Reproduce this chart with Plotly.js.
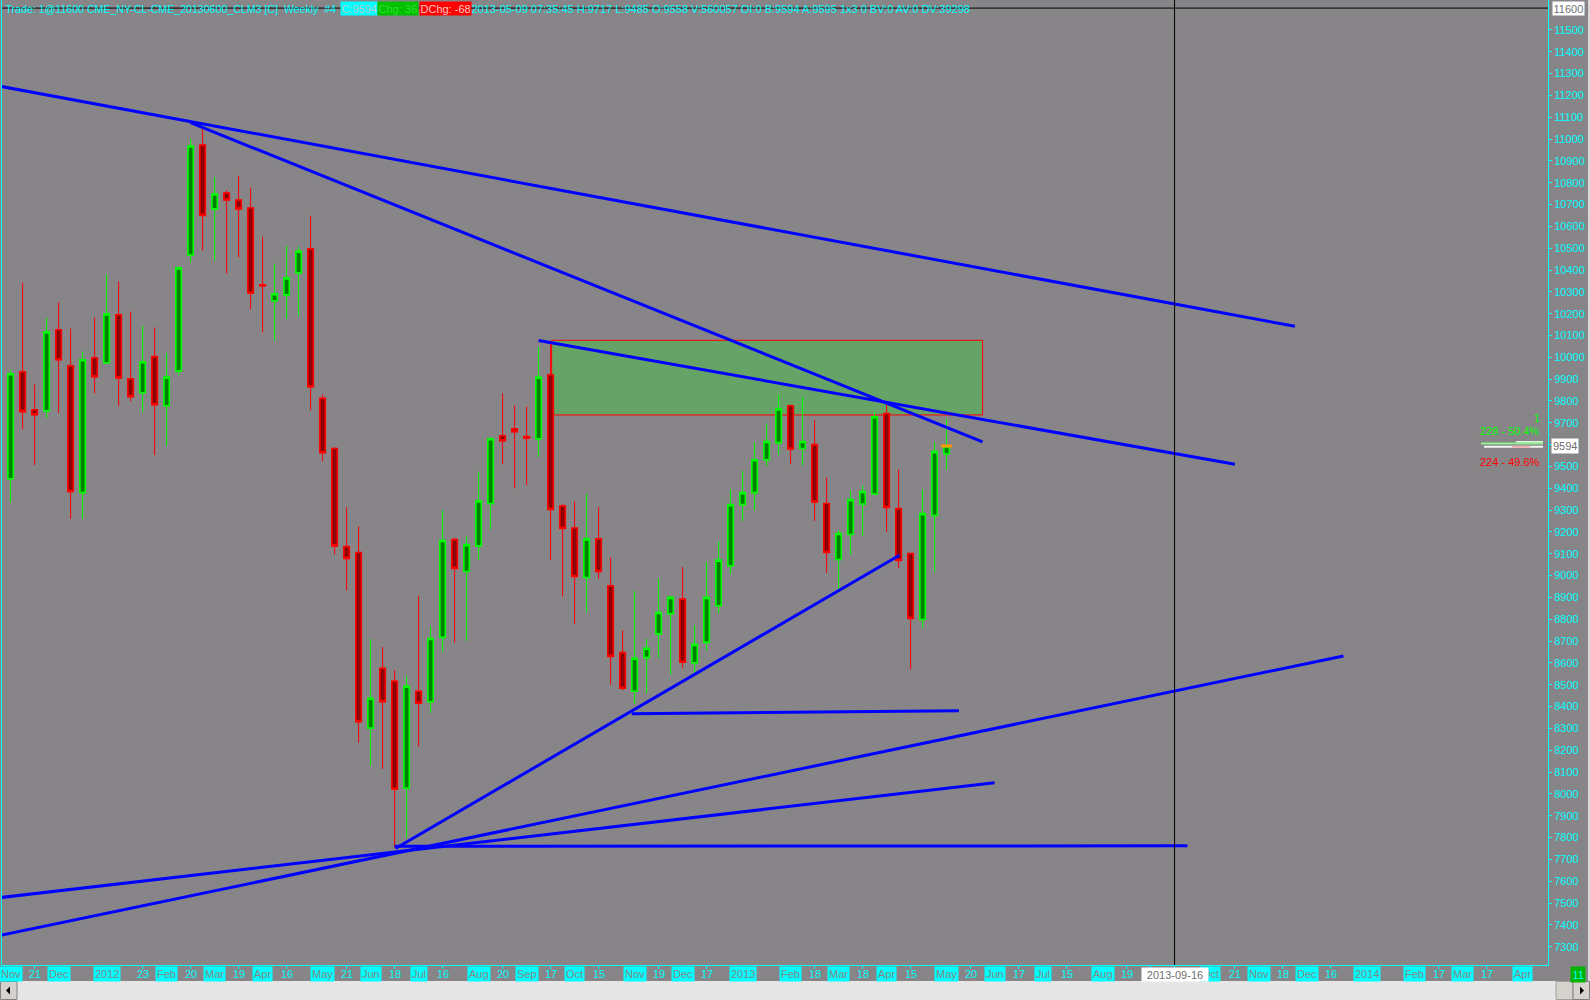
<!DOCTYPE html>
<html><head><meta charset="utf-8">
<script src="https://cdn.plot.ly/plotly-3.0.1.min.js"></script>
<style>html,body{margin:0;padding:0;background:#878588;overflow:hidden}#chart{width:1590px;height:1000px}</style>
</head><body><div id="chart"></div><script>
// ---- weekly OHLC, CLM3 (values in cents of $) ----
const dates = ['2011-11-07','2011-11-14','2011-11-21','2011-11-28','2011-12-05','2011-12-12','2011-12-19','2011-12-26',
'2012-01-02','2012-01-09','2012-01-16','2012-01-23','2012-01-30','2012-02-06','2012-02-13','2012-02-20','2012-02-27',
'2012-03-05','2012-03-12','2012-03-19','2012-03-26','2012-04-02','2012-04-09','2012-04-16','2012-04-23','2012-04-30',
'2012-05-07','2012-05-14','2012-05-21','2012-05-28','2012-06-04','2012-06-11','2012-06-18','2012-06-25','2012-07-02',
'2012-07-09','2012-07-16','2012-07-23','2012-07-30','2012-08-06','2012-08-13','2012-08-20','2012-08-27','2012-09-03',
'2012-09-10','2012-09-17','2012-09-24','2012-10-01','2012-10-08','2012-10-15','2012-10-22','2012-10-29','2012-11-05',
'2012-11-12','2012-11-19','2012-11-26','2012-12-03','2012-12-10','2012-12-17','2012-12-24','2012-12-31','2013-01-07',
'2013-01-14','2013-01-21','2013-01-28','2013-02-04','2013-02-11','2013-02-18','2013-02-25','2013-03-04','2013-03-11',
'2013-03-18','2013-03-25','2013-04-01','2013-04-08','2013-04-15','2013-04-22','2013-04-29','2013-05-06'];
const opens = [9444,9934,9760,9755,10126,9961,9380,9998,9975,10195,9902,9838,10003,9778,9938,10469,10972,10680,10753,10721,
10684,10332,10259,10286,10387,10497,9812,9582,9133,9106,8301,8575,8516,8026,8470,8422,8717,9165,9019,9136,9330,9641,9673,
9637,9627,9920,9319,9218,8991,9168,8953,8648,8470,8624,8733,8825,8892,8601,8694,8862,9045,9325,9380,9531,9609,9778,9582,
9600,9330,9074,9188,9328,9374,9742,9307,9101,8799,9275,9558];
const highs = [9944,10342,9876,10182,10251,10132,10027,10182,10379,10347,10210,10146,10137,10021,10417,11000,11061,10826,
10765,10832,10777,10553,10429,10512,10507,10649,9830,9588,9313,9226,8709,8673,8567,8540,8906,8767,9298,9173,9180,9476,9633,
9835,9780,9774,10048,10075,9327,9341,9373,9313,9084,8750,8929,8709,8988,8905,9039,8773,9063,9158,9395,9478,9610,9697,9830,
9784,9816,9711,9450,9208,9391,9414,9748,9784,9487,9101,9395,9610,9717];
const lows = [9335,9670,9507,9720,9745,9260,9260,9835,9970,9777,9799,9749,9552,9594,9918,10435,10490,10443,10385,10458,
10220,10115,10076,10175,10188,9758,9524,9098,8933,8235,8130,8114,7756,7800,8217,8372,8651,8692,8701,9072,9212,9510,9401,
9415,9543,9072,8905,8779,8831,8985,8500,8473,8412,8462,8624,8546,8578,8550,8656,8828,9007,9250,9299,9502,9552,9511,9505,
9250,9012,8938,9095,9182,9374,9200,9035,8569,8761,9017,9485];
const closes = [9925,9751,9737,10117,9989,9385,9989,9911,10199,9906,9820,9980,9783,9909,10410,10968,10650,10748,10721,10680,
10295,10328,10291,10364,10486,9865,9563,9136,9078,8331,8438,8422,8022,8493,8415,8712,9161,9033,9142,9342,9627,9618,9659,
9630,9909,9303,9216,8996,9168,9019,8630,8484,8621,8667,8831,8900,8603,8685,8900,9071,9325,9380,9531,9614,9763,9580,9614,
9337,9106,9193,9348,9385,9728,9312,9069,8804,9284,9568,9594];

// ---- drawn trend lines (start/end) ----
const lineStartDate  = ['2011-10-31','2012-02-20','2012-09-10','2011-10-31','2011-10-31','2012-06-18','2012-06-18 12:00','2012-11-03 08:00'];
const lineStartPrice = [11243,11075,10077,7350,7524,7760,7750,8367];
const lineEndDate    = ['2013-11-25 05:00','2013-05-27','2013-10-21 05:00','2013-12-23 13:00','2013-06-03','2013-09-23 12:00','2013-04-08 12:00','2013-05-13 05:00'];
const lineEndPrice   = [10142,9613,9510,8632,8051,7762,9093,8381];

// ---- resistance zone ----
const zoneX = ['2012-09-17 15:00','2013-05-27'];
const zoneY = [9736,10078];

// ---- crosshair ----
const crossDate = '2013-09-16';
const crossPrice = 11600;

// ---- axes ----
const xRange = ['2011-11-01 23:36','2014-04-21 20:10'];
const yRange = [7216,11637];
const yTicks = [7300,7400,7500,7600,7700,7800,7900,8000,8100,8200,8300,8400,8500,8600,8700,8800,8900,9000,9100,9200,9300,
9400,9500,9600,9700,9800,9900,10000,10100,10200,10300,10400,10500,10600,10700,10800,10900,11000,11100,11200,11300,11400,11500];
const tickDates = ['2011-11-07','2011-11-21','2011-12-05','2012-01-02','2012-01-23','2012-02-06','2012-02-20','2012-03-05',
'2012-03-19','2012-04-02','2012-04-16','2012-05-07','2012-05-21','2012-06-04','2012-06-18','2012-07-02','2012-07-16',
'2012-08-06','2012-08-20','2012-09-03','2012-09-17','2012-10-01','2012-10-15','2012-11-05','2012-11-19','2012-12-03',
'2012-12-17','2013-01-07','2013-02-04','2013-02-18','2013-03-04','2013-03-18','2013-04-01','2013-04-15','2013-05-06',
'2013-05-20','2013-06-03','2013-06-17','2013-07-01','2013-07-15','2013-08-05','2013-08-19','2013-09-02','2013-09-16',
'2013-10-07','2013-10-21','2013-11-04','2013-11-18','2013-12-02','2013-12-16','2014-01-06','2014-02-03','2014-02-17',
'2014-03-03','2014-03-17','2014-04-07'];
// labels hidden under the crosshair date box are left empty
const tickLabels = ['Nov','21','Dec','2012','23','Feb','20','Mar','19','Apr','16','May','21','Jun','18','Jul','16','Aug','20',
'Sep','17','Oct','15','Nov','19','Dec','17','2013','Feb','18','Mar','18','Apr','15','May','20','Jun','17','Jul','15','Aug',
'19','','','Oct','21','Nov','18','Dec','16','2014','Feb','17','Mar','17','Apr'];
const tickIsMonth = [1,0,1,1,0,1,0,1,0,1,0,1,0,1,0,1,0,1,0,1,0,1,0,1,0,1,0,1,1,0,1,0,1,0,1,0,1,0,1,0,1,0,1,0,1,0,1,0,1,0,1,1,0,1,0,1];

// ---- header texts ----
const headerParts = [
  {t:'Trade: 1@11600 CME_NY-CL-CME_20130600_CLM3 [C]\u00a0\u00a0Weekly\u00a0\u00a0#4', px:4, bg:null, c:'#00ffff', s:10.6},
  {t:'C:9594', px:340, bg:'#00ffff', c:'#b8c8c8', s:11},
  {t:'Chg:\u00a036', px:377, bg:'#00c000', c:'#30e030', s:11},
  {t:'DChg:\u00a0-68', px:419, bg:'#ff0000', c:'#ffc8c8', s:11},
  {t:'2013-05-09 07:35:45 H:9717 L:9485 O:9558 V:560057 OI:0 B:9594 A:9595 1x3 0 BV:0 AV:0 DV:39298', px:470, bg:null, c:'#00ffff', s:11}
];
const statsTexts = [{t:'1', py:418, c:'#00ff00'},{t:'228 - 50.4%', py:431, c:'#00ff00'},{t:'224 - 49.6%', py:462, c:'#ff0000'}];

// ---------------------------------------------------------------
const F = 'Liberation Sans, Arial, sans-serif';
const W = 1590, H = 1000, ML = 2, MR = 42, MT = 0, MB = 35;
const PW = W - ML - MR, PH = H - MT - MB;
const px = x => (x - ML) / PW;
const py = y => (H - MB - y) / PH;

const bodyHigh = opens.map((o,i)=>Math.max(o,closes[i]));
const bodyLow  = opens.map((o,i)=>Math.min(o,closes[i]));

const incr = '#00ff00', decr = '#ff0000';
const traces = [
  {type:'candlestick', x:dates, open:opens, high:highs, low:lows, close:closes, whiskerwidth:0,
   increasing:{line:{color:incr,width:1}, fillcolor:'#008000'},
   decreasing:{line:{color:decr,width:1}, fillcolor:'#8b0000'}, hoverinfo:'skip', showlegend:false},
  {type:'candlestick', x:dates, open:opens, high:bodyHigh, low:bodyLow, close:closes, whiskerwidth:0,
   increasing:{line:{color:incr,width:1.6}, fillcolor:'#008000'},
   decreasing:{line:{color:decr,width:1.6}, fillcolor:'#8b0000'}, hoverinfo:'skip', showlegend:false}
];
const lx = [], ly = [];
lineStartDate.forEach((d,i)=>{ lx.push(d, lineEndDate[i], null); ly.push(lineStartPrice[i], lineEndPrice[i], null); });
traces.push({type:'scatter', mode:'lines', x:lx, y:ly, line:{color:'#0000ff', width:3}, hoverinfo:'skip', showlegend:false, connectgaps:false});
traces.push({type:'scatter', mode:'markers', x:[dates[dates.length-1]], y:[closes[closes.length-1]],
  marker:{symbol:'line-ew', size:8, line:{width:3, color:'#ff9a00'}}, hoverinfo:'skip', showlegend:false});

const shapes = [
  {type:'rect', layer:'below', xref:'x', yref:'y', x0:zoneX[0], x1:zoneX[1], y0:zoneY[0], y1:zoneY[1],
   fillcolor:'#66a366', line:{color:'#ff0000', width:1}},
  {type:'line', xref:'x', yref:'paper', x0:crossDate, x1:crossDate, y0:0, y1:1, line:{color:'#000000', width:1}},
  {type:'line', xref:'paper', yref:'y', x0:0, x1:1, y0:crossPrice, y1:crossPrice, line:{color:'#000000', width:1}},
  // order-flow bars at right
  {type:'line', xref:'paper', yref:'paper', x0:px(1481), x1:px(1543), y0:py(443.5), y1:py(443.5), line:{color:'#90f090', width:2}},
  {type:'line', xref:'paper', yref:'paper', x0:px(1484), x1:px(1543), y0:py(446.8), y1:py(446.8), line:{color:'#f4f4f4', width:2}},
  {type:'line', xref:'paper', yref:'paper', x0:px(1512), x1:px(1530), y0:py(446.8), y1:py(446.8), line:{color:'#f0b0b0', width:2}},
  {type:'rect', xref:'paper', yref:'paper', x0:px(1516), x1:px(1543), y0:py(442.5), y1:py(441), fillcolor:'#d8ffd8', line:{width:0}},
  // scrollbar
  {type:'rect', xref:'paper', yref:'paper', x0:px(0), x1:px(1590), y0:py(1000), y1:py(981), fillcolor:'#e6e6e6', line:{width:0}},
  {type:'rect', xref:'paper', yref:'paper', x0:px(0.5), x1:px(17), y0:py(999.5), y1:py(981.5), fillcolor:'#d6d3ce', line:{color:'#808080', width:1}},
  {type:'path', xref:'paper', yref:'paper', path:`M ${px(6)} ${py(990.5)} L ${px(10)} ${py(986.5)} L ${px(10)} ${py(994.5)} Z`, fillcolor:'#000000', line:{width:0}},
  {type:'rect', xref:'paper', yref:'paper', x0:px(1556), x1:px(1573), y0:py(999.5), y1:py(981.5), fillcolor:'#d6d3ce', line:{color:'#a0a0a0', width:1}},
  {type:'rect', xref:'paper', yref:'paper', x0:px(1573), x1:px(1589.5), y0:py(999.5), y1:py(981.5), fillcolor:'#d6d3ce', line:{color:'#808080', width:1}},
  {type:'path', xref:'paper', yref:'paper', path:`M ${px(1584)} ${py(990.5)} L ${px(1580)} ${py(986.5)} L ${px(1580)} ${py(994.5)} Z`, fillcolor:'#000000', line:{width:0}},
  {type:'rect', xref:'paper', yref:'paper', x0:px(1588), x1:px(1590), y0:py(981), y1:py(0), fillcolor:'#d8d8d8', line:{width:0}}
];

const annotations = [];
tickDates.forEach((d,i)=>{
  if (!tickLabels[i]) return;
  const m = tickIsMonth[i] === 1;
  annotations.push({xref:'x', yref:'paper', x:d, y:py(974), xanchor:'center', yanchor:'middle', showarrow:false,
    text:tickLabels[i], font:{family:F, size:11, color: m ? '#858585' : '#00ffff'},
    bgcolor: m ? '#00ffff' : 'rgba(0,0,0,0)', borderpad:1});
});
annotations.push({xref:'x', yref:'paper', x:crossDate, y:py(974), xanchor:'center', yanchor:'middle', showarrow:false,
  text:crossDate, font:{family:F, size:11, color:'#707070'}, bgcolor:'#ffffff', borderpad:0, width:66, height:13});
annotations.push({xref:'paper', yref:'paper', x:px(1578), y:py(974), xanchor:'center', yanchor:'middle', showarrow:false,
  text:'11', font:{family:F, size:11, color:'#00ffff'}, bgcolor:'#00b400', borderpad:1.5});
annotations.push({xref:'paper', yref:'y', x:px(1552), y:crossPrice, xanchor:'left', yanchor:'middle', showarrow:false,
  text:String(crossPrice), font:{family:F, size:11, color:'#707070'}, bgcolor:'#ffffff', borderpad:0.5});
annotations.push({xref:'paper', yref:'y', x:px(1551), y:closes[closes.length-1], xanchor:'left', yanchor:'middle', showarrow:false,
  text:String(closes[closes.length-1]), font:{family:F, size:11, color:'#707070'}, bgcolor:'#ffffff', borderpad:1});
headerParts.forEach(h=>{
  annotations.push({xref:'paper', yref:'paper', x:px(h.px), y:py(8.5), xanchor:'left', yanchor:'middle', showarrow:false,
    text:h.t, font:{family:F, size:h.s, color:h.c}, bgcolor: h.bg || 'rgba(0,0,0,0)', borderpad:0.5});
});
statsTexts.forEach(s=>{
  annotations.push({xref:'paper', yref:'paper', x:px(1542), y:py(s.py), xanchor:'right', yanchor:'middle', showarrow:false,
    text:s.t, font:{family:F, size:11, color:s.c}});
});

const layout = {
  width:W, height:H, margin:{l:ML, r:MR, t:MT, b:MB, pad:0},
  paper_bgcolor:'#878588', plot_bgcolor:'#878588', showlegend:false, boxgap:0.35, boxgroupgap:0.3,
  xaxis:{type:'date', range:xRange, showgrid:false, zeroline:false, showline:true, linecolor:'#00ffff', linewidth:1,
    ticks:'outside', ticklen:3, tickcolor:'#00ffff', tickvals:tickDates, showticklabels:false,
    rangeslider:{visible:false}, fixedrange:true},
  yaxis:{side:'right', range:yRange, showgrid:false, zeroline:false, showline:true, mirror:true, linecolor:'#00ffff', linewidth:1,
    ticks:'outside', ticklen:3, tickcolor:'#00ffff', tickvals:yTicks, ticktext:yTicks.map(String),
    tickfont:{family:F, size:11, color:'#00ffff'}, fixedrange:true},
  shapes:shapes, annotations:annotations
};
Plotly.newPlot('chart', traces, layout, {staticPlot:true, displayModeBar:false});
</script></body></html>
